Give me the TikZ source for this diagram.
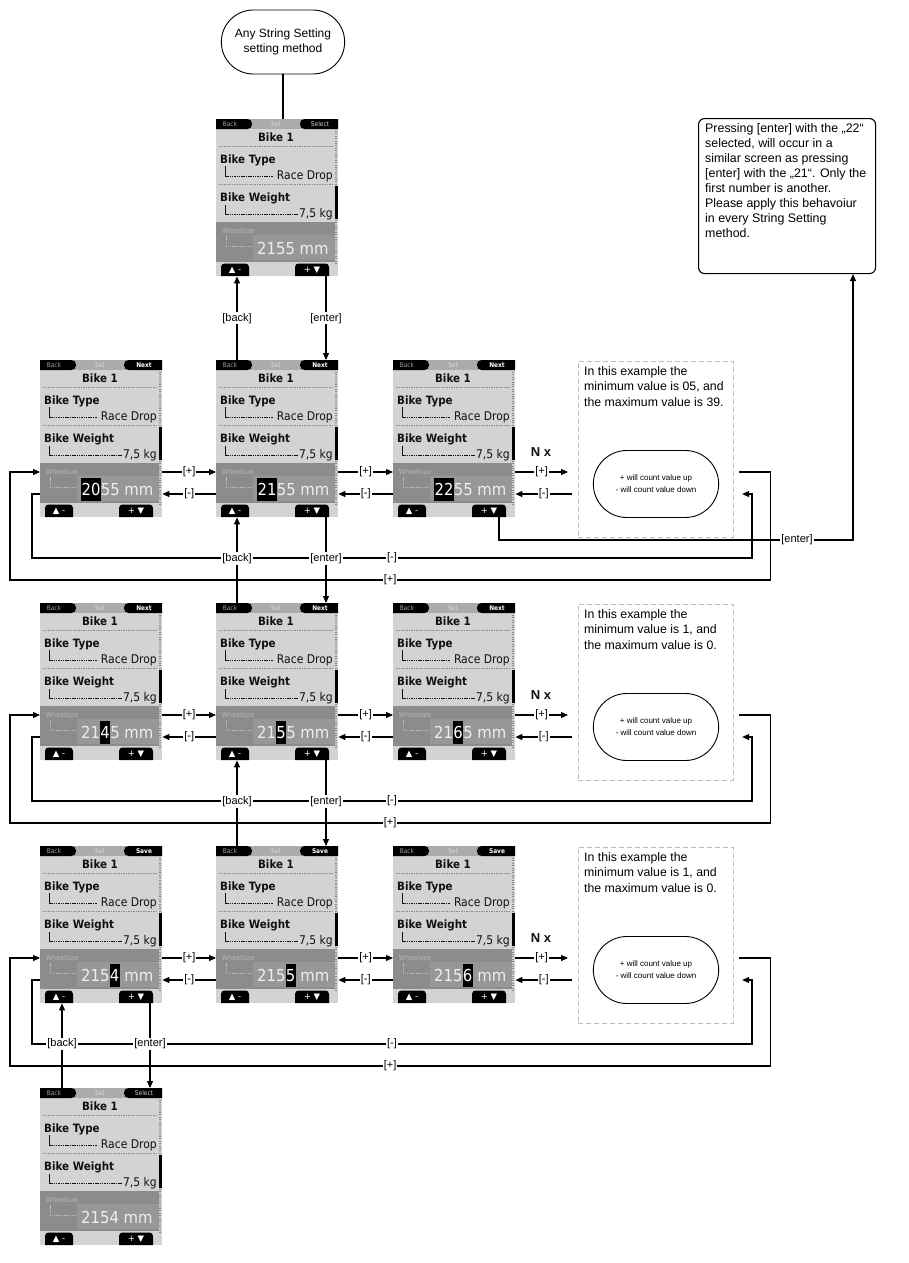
\documentclass[tikz,border=0pt]{standalone}
\usepackage{fontspec}
\setmainfont{Liberation Sans}
\newfontfamily\scrfont{DejaVu Sans Condensed}
\newfontfamily\symfont{DejaVu Sans}
\usetikzlibrary{arrows.meta,calc,shapes.misc}
\definecolor{bodyc}{HTML}{D3D3D3}
\definecolor{barc}{HTML}{ABABAB}
\definecolor{bandc}{HTML}{8C8C8C}
\definecolor{valc}{HTML}{979797}
\definecolor{tabc}{HTML}{A0A0A0}
\definecolor{setc}{HTML}{DADADA}
\definecolor{selc}{HTML}{D0D0D0}
\definecolor{scrtxt}{HTML}{111111}
\definecolor{sepc}{HTML}{8A8A8A}
\definecolor{wsc}{HTML}{B8B8B8}
\definecolor{valtxt}{HTML}{EEEEEE}
\definecolor{dashc}{HTML}{BDBDBD}
\newcommand{\hldig}[1]{{\setlength{\fboxsep}{0.4pt}\colorbox{black}{\rule[-5pt]{0pt}{22pt}\textcolor{white}{#1}}}}
\tikzset{
 tabt/.style={inner sep=0pt, font=\scrfont\fontsize{6.5}{6.5}\selectfont, text=tabc},
 scrb/.style={inner sep=0pt, font=\scrfont\bfseries\fontsize{11.5}{11.5}\selectfont, text=scrtxt},
 scrn/.style={inner sep=0pt, font=\scrfont\fontsize{12}{12}\selectfont, text=scrtxt},
 wst/.style={inner sep=0pt, font=\scrfont\fontsize{7}{7}\selectfont, text=wsc},
 valt/.style={inner sep=0pt, font=\scrfont\fontsize{16.5}{16.5}\selectfont, text=valtxt},
 btnt/.style={inner sep=0pt, font=\symfont\fontsize{8.5}{8.5}\selectfont, text=white},
 sepl/.style={draw=sepc, line width=0.5pt, dash pattern=on 1.5pt off 1pt},
 brkv/.style={draw=scrtxt, line width=0.5pt},
 brkh/.style={draw=scrtxt, line width=0.5pt, dash pattern=on 1.5pt off 0.8pt},
 wbrk/.style={draw=wsc, line width=0.5pt, dash pattern=on 1.5pt off 0.8pt},
 scrl/.style={draw=sepc, line width=2.5pt, dash pattern=on 0.8pt off 1.6pt},
 conn/.style={line width=1.1pt, -{Triangle[length=7pt,width=6pt]}},
 plainc/.style={line width=1.1pt},
 lbl/.style={fill=white, inner sep=1pt, font=\fontsize{11}{13}\selectfont},
 dashbox/.style={draw=dashc, line width=0.9pt, dash pattern=on 5pt off 3pt, minimum width=155pt, minimum height=176pt, inner sep=0pt},
 notet/.style={inner sep=0pt, align=left, font=\fontsize{12.3}{15.5}\selectfont},
 stad/.style={draw, rounded rectangle, line width=0.9pt, minimum width=132pt, minimum height=67pt, align=center, font=\fontsize{8}{12}\selectfont},
 nxt/.style={inner sep=0pt, font=\bfseries\fontsize{13}{13}\selectfont, text=scrtxt},
 startn/.style={draw, rounded rectangle, line width=0.9pt, minimum width=130pt, minimum height=64pt, align=center, font=\fontsize{12}{15}\selectfont},
 notebox/.style={draw, rounded corners=6pt, line width=1.1pt, minimum width=177pt, minimum height=155pt, inner sep=0pt}
}
\newcommand{\drawscreen}[5]{%
\begin{scope}[shift={(#2,#3)}]
\fill[bodyc] (0,0) rectangle (122,157);
\fill[barc] (0,0) rectangle (122,10);
\fill[black,rounded corners=4.5pt] (0,0) -- (36,0) -- (36,10) -- (0,10);
\fill[black,rounded corners=4.5pt] (122,0) -- (84,0) -- (84,10) -- (122,10);
\node[tabt] at (14,5) {Back};
\node[tabt,text=setc] at (60,5) {Set};
\node[tabt] at (104,5) {#4};
\node[scrb,anchor=base] at (60,22.5) {Bike 1};
\draw[sepl] (3,27) -- (116,27);
\node[scrb,anchor=base west] at (4,44.5) {Bike Type};
\draw[brkv] (9,47) -- (9,57);
\draw[brkh] (9,57) -- (57,57);
\node[scrn,anchor=base east] at (117,60.5) {Race Drop};
\draw[sepl] (3,65.5) -- (116,65.5);
\node[scrb,anchor=base west] at (4,82.5) {Bike Weight};
\draw[brkv] (9,86) -- (9,95);
\draw[brkh] (9,95) -- (82,95);
\node[scrn,anchor=base east] at (117,98.5) {7,5 kg};
\draw[scrl] (120.2,12) -- (120.2,145);
\fill[black] (118.5,67) rectangle (122,100);
\fill[bandc] (0,103) rectangle (118.5,143);
\fill[valc] (37,116) rectangle (118.5,141);
\node[wst,anchor=base west] at (6,114) {Wheelsize};
\draw[wbrk] (10,117) -- (10,127) -- (36,127);
\node[valt,anchor=base west] at (41,135.5) {#5};
\fill[black,rounded corners=3.5pt] (5,157) -- (5,144.5) -- (33,144.5) -- (33,157);
\fill[black,rounded corners=3.5pt] (79,157) -- (79,144.5) -- (113,144.5) -- (113,157);
\node[btnt] at (19,151) {▲ -};
\node[btnt] at (96,151) {+ ▼};
\node[inner sep=0pt,minimum width=122pt,minimum height=157pt,anchor=north west] (#1) at (0,0) {};
\end{scope}}
\newcommand{\rowparts}[3]{%
\node[dashbox,anchor=north west] (nb#1) at (578,{#2+1}) {};
\node[notet,anchor=north west] (nt#1) at (584,{#2+6}) {#3};
\node[stad] (st#1) at (656,{#2+124}) {+ will count value up\\- will count value down};
\node[nxt] (nx#1) at (541,{#2+92}) {N x};
\draw[conn] ($(r#1a.north east)+(0,112)$) -- node[lbl]{[+]} ($(r#1b.north west)+(0,112)$);
\draw[conn] ($(r#1b.north west)+(0,134)$) -- node[lbl]{[-]} ($(r#1a.north east)+(0,134)$);
\draw[conn] ($(r#1b.north east)+(0,112)$) -- node[lbl]{[+]} ($(r#1c.north west)+(0,112)$);
\draw[conn] ($(r#1c.north west)+(0,134)$) -- node[lbl]{[-]} ($(r#1b.north east)+(0,134)$);
\draw[conn] ($(r#1c.north east)+(0,112)$) -- node[lbl]{[+]} ($(nb#1.north west)+(-10,111)$);
\draw[conn] ($(nb#1.north west)+(-6,133)$) -- node[lbl]{[-]} ($(r#1c.north east)+(0,134)$);
\draw[conn] ($(st#1.east)+(20,-12)$) -| ($(st#1.east)+(51,96)$) -- node[lbl]{[+]} (10,{#2+220}) |- ($(r#1a.north west)+(0,112)$);
\draw[conn] ($(r#1a.north west)+(0,134)$) -| (32,{#2+198}) -- node[lbl]{[-]} (752,{#2+198}) |- ($(st#1.east)+(23,10)$);
}
\begin{document}
\begin{tikzpicture}[x=1pt,y=-1pt]
\fill[white] (0,0) rectangle (908,1263);
\useasboundingbox (0,0) rectangle (908,1263);

% start
\node[startn] (start) at (283,42) {Any String Setting\\setting method};
\drawscreen{s0}{216}{119}{\color{selc}Select}{2155 mm}
\draw[plainc] (start.south) -- (start.south |- s0.north);

% note
\node[notebox,anchor=north west] (note) at (698,118) {};
\node[inner sep=0pt,align=left,anchor=north west,font=\fontsize{12.4}{15}\selectfont] (notetext) at (705,123) {Pressing [enter] with the „22“\\selected, will occur in a\\similar screen as pressing\\{[enter]} with the „21“. Only the\\first number is another.\\Please apply this behavoiur\\in every String Setting\\method.};

% row 2
\drawscreen{r2a}{40}{360}{\color{white}\bfseries Next}{\hldig{20}55 mm}
\drawscreen{r2b}{216}{360}{\color{white}\bfseries Next}{\hldig{21}55 mm}
\drawscreen{r2c}{393}{360}{\color{white}\bfseries Next}{\hldig{22}55 mm}
\rowparts{2}{360}{In this example the\\minimum value is 05, and\\the maximum value is 39.}

% row 3
\drawscreen{r3a}{40}{603}{\color{white}\bfseries Next}{21\hldig{4}5 mm}
\drawscreen{r3b}{216}{603}{\color{white}\bfseries Next}{21\hldig{5}5 mm}
\drawscreen{r3c}{393}{603}{\color{white}\bfseries Next}{21\hldig{6}5 mm}
\rowparts{3}{603}{In this example the\\minimum value is 1, and\\the maximum value is 0.}

% row 4
\drawscreen{r4a}{40}{846}{\color{white}\bfseries Save}{215\hldig{4} mm}
\drawscreen{r4b}{216}{846}{\color{white}\bfseries Save}{215\hldig{5} mm}
\drawscreen{r4c}{393}{846}{\color{white}\bfseries Save}{215\hldig{6} mm}
\rowparts{4}{846}{In this example the\\minimum value is 1, and\\the maximum value is 0.}

% bottom
\drawscreen{s5}{40}{1088}{\color{selc}Select}{2154 mm}

% vertical connectors
\draw[conn] ($(r2b.north west)+(21,0)$) -- node[lbl]{[back]} ($(s0.south west)+(21,0)$);
\draw[conn] ($(s0.south west)+(110,0)$) -- node[lbl]{[enter]} ($(r2b.north west)+(110,0)$);
\draw[conn] ($(r3b.north west)+(21,0)$) -- node[lbl,pos=0.52]{[back]} ($(r2b.south west)+(21,0)$);
\draw[conn] ($(r2b.south west)+(110,0)$) -- node[lbl,pos=0.48]{[enter]} ($(r3b.north west)+(110,0)$);
\draw[conn] ($(r4b.north west)+(21,0)$) -- node[lbl,pos=0.52]{[back]} ($(r3b.south west)+(21,0)$);
\draw[conn] ($(r3b.south west)+(110,0)$) -- node[lbl,pos=0.48]{[enter]} ($(r4b.north west)+(110,0)$);
\draw[conn] ($(s5.north west)+(22,0)$) -- node[lbl,pos=0.52]{[back]} ($(r4a.south west)+(22,0)$);
\draw[conn] ($(r4a.south west)+(110,0)$) -- node[lbl,pos=0.48]{[enter]} ($(s5.north west)+(110,0)$);

% enter to note
\coordinate (entc) at (853,540);
\draw[conn] ($(r2c.south west)+(106,0)$) |- (entc) -- (entc |- note.south);
\node[lbl] (entl) at (797,540) {[enter]};
\end{tikzpicture}
\end{document}
